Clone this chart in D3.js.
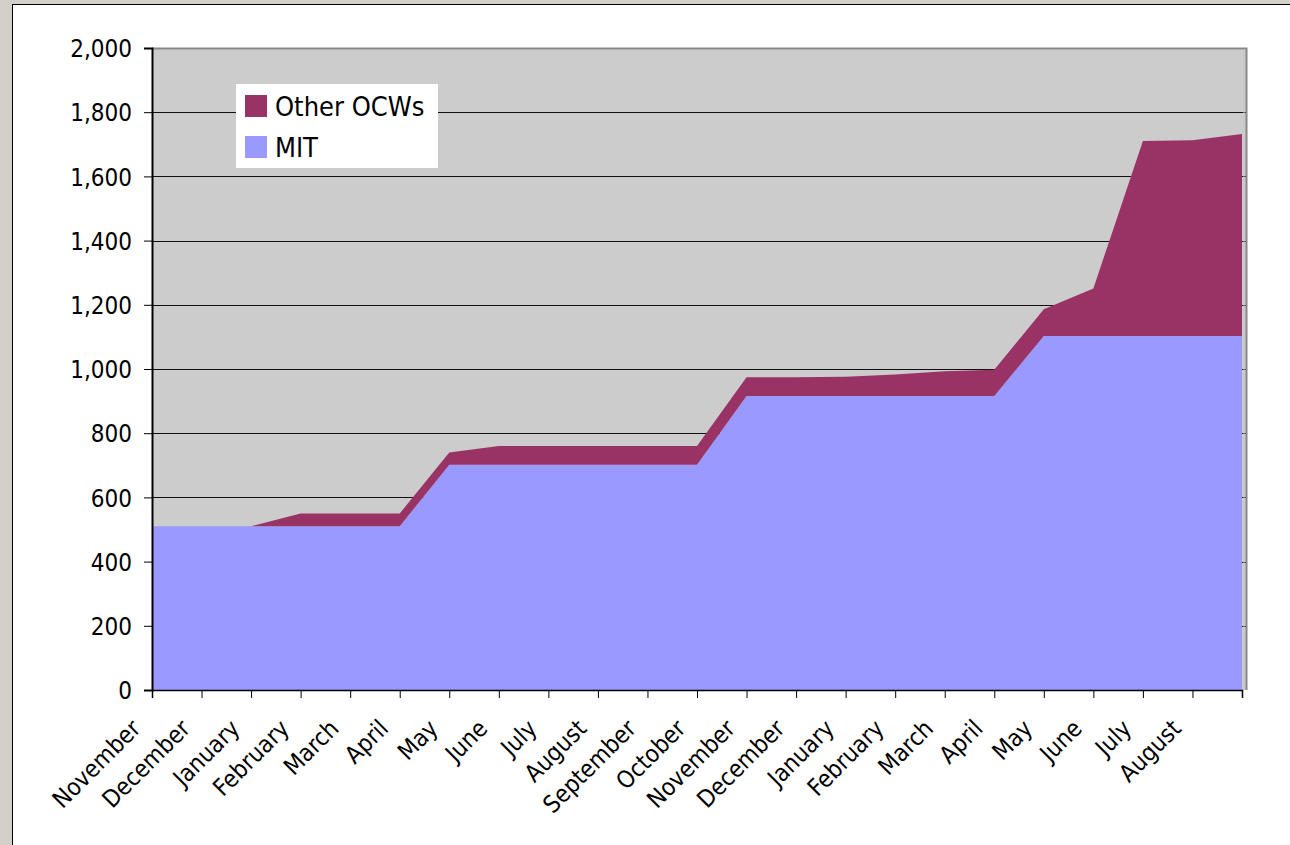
<!DOCTYPE html>
<html>
<head>
<meta charset="utf-8">
<script src="https://cdn.jsdelivr.net/npm/d3@7"></script>
<style>
  body { margin: 0; background: #D4D0C8; }
  svg { display: block; }
  text { font-family: "DejaVu Sans Condensed", "DejaVu Sans", sans-serif; fill: #000; }
</style>
</head>
<body>
<div id="chart"></div>
<script>
// month labels (last point has no label in the original)
const months = ["November", "December", "January", "February", "March", "April", "May", "June",
  "July", "August", "September", "October", "November", "December", "January", "February",
  "March", "April", "May", "June", "July", "August", ""];
const mit = [510, 510, 510, 510, 510, 510, 702, 702, 702, 702, 702, 702,
  916, 916, 916, 916, 916, 916, 1103, 1103, 1103, 1103, 1103];
const otherOcws = [0, 0, 0, 40, 40, 40, 38, 58, 58, 58, 58, 58,
  58, 58, 60, 67, 77, 82, 83, 148, 607, 610, 629];
const yTicks = [0, 200, 400, 600, 800, 1000, 1200, 1400, 1600, 1800, 2000];
const seriesNames = ["Other OCWs", "MIT"];
const seriesColors = { "MIT": "#9999FF", "Other OCWs": "#993366" };

const width = 1290, height = 845;
const plot = { left: 152, right: 1242, top: 48, bottom: 690 };

const svg = d3.select("#chart").append("svg")
  .attr("width", width)
  .attr("height", height);

// window frame
svg.append("rect").attr("width", width).attr("height", height).attr("fill", "#D4D0C8");
svg.append("rect")
  .attr("x", 12.5).attr("y", 4.5)
  .attr("width", width).attr("height", height)
  .attr("fill", "#fff").attr("stroke", "#000");

const x = d3.scalePoint()
  .domain(d3.range(months.length))
  .range([plot.left, plot.right]);

const y = d3.scaleLinear()
  .domain([0, 2000])
  .range([plot.bottom, plot.top]);

// plot area
svg.append("rect")
  .attr("x", plot.left).attr("y", plot.top)
  .attr("width", 1246 - plot.left).attr("height", plot.bottom - plot.top)
  .attr("fill", "#CCCCCC");

// gridlines
svg.append("g")
  .selectAll("line")
  .data(yTicks.filter(d => d > 0 && d < 2000))
  .join("line")
  .attr("x1", plot.left).attr("x2", 1246)
  .attr("y1", d => Math.round(y(d)) + 0.5).attr("y2", d => Math.round(y(d)) + 0.5)
  .attr("stroke", "#111").attr("stroke-width", 1.2);

// stacked areas
const table = months.map((m, i) => ({ i: i, "MIT": mit[i], "Other OCWs": otherOcws[i] }));
const stack = d3.stack().keys(["MIT", "Other OCWs"]);
const layers = stack(table);

const area = d3.area()
  .x(d => x(d.data.i))
  .y0(d => y(d[0]))
  .y1(d => y(d[1]));

svg.append("g")
  .selectAll("path")
  .data(layers)
  .join("path")
  .attr("fill", d => seriesColors[d.key])
  .attr("d", area);

// plot border top/right
svg.append("path")
  .attr("d", `M${plot.left},${plot.top + 0.5}H1246.5V${plot.bottom}`)
  .attr("fill", "none").attr("stroke", "#888").attr("stroke-width", 2);
svg.append("line")
  .attr("x1", 1244).attr("x2", 1244).attr("y1", plot.top + 1).attr("y2", plot.bottom)
  .attr("stroke", "#c8c8c8").attr("stroke-width", 1);

// y axis
const yAxis = svg.append("g")
  .attr("transform", `translate(${plot.left},0)`)
  .call(d3.axisLeft(y).tickValues(yTicks).tickSize(8).tickPadding(12).tickFormat(d3.format(",")));
yAxis.select(".domain").attr("stroke", "#000").attr("stroke-width", 2);
yAxis.selectAll(".tick line").attr("stroke", "#000");
yAxis.selectAll(".tick text")
  .style("font-size", "24px")
  .attr("dy", "0.36em");

// x axis
const xAxis = svg.append("g")
  .attr("transform", `translate(0,${plot.bottom})`)
  .call(d3.axisBottom(x).tickSize(8).tickFormat(""));
xAxis.select(".domain").attr("stroke", "#000").attr("stroke-width", 1.5);
xAxis.selectAll(".tick line").attr("stroke", "#000");

svg.append("g")
  .selectAll("text")
  .data(months)
  .join("text")
  .attr("transform", (d, i) => `translate(${x(i) - 10},${plot.bottom + 40}) rotate(-45)`)
  .attr("text-anchor", "end")
  .style("font-size", "24px")
  .text(d => d);

// legend
const legend = svg.append("g").attr("transform", "translate(236,84)");
legend.append("rect").attr("width", 202).attr("height", 84).attr("fill", "#fff");
const entry = legend.selectAll("g")
  .data(seriesNames)
  .join("g")
  .attr("transform", (d, i) => `translate(9,${11 + i * 41})`);
entry.append("rect")
  .attr("width", 22).attr("height", 22)
  .attr("fill", d => seriesColors[d]);
entry.append("text")
  .attr("x", 30).attr("y", 21)
  .style("font-size", "27px")
  .text(d => d);
</script>
</body>
</html>
